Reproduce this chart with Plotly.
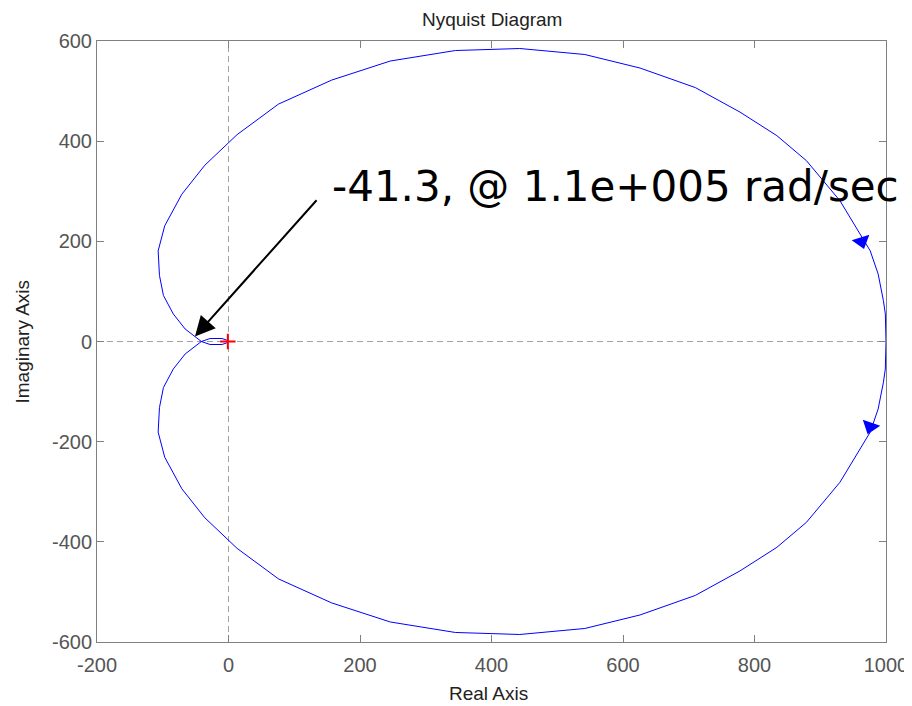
import plotly.graph_objects as go

# Nyquist curve, positive frequencies (w: 0 -> +inf)
re_pos = [1000, 999, 996, 988, 976, 930, 879, 834, 778, 710, 626, 542, 443, 345, 246, 157, 76, 13,
          -36, -71, -97, -107, -105, -99, -84, -66, -41.3, -28, -10, -3, 0]
im_pos = [0, -55, -82, -135, -181, -281, -361, -411, -458, -507, -546, -573, -585, -581, -560, -522,
          -474, -413, -352, -294, -231, -181, -132, -92, -55, -25, 0, 6, 6, 3, 0]

# Nyquist curve, negative frequencies (w: -inf -> 0)
re_neg = [0, -3, -10, -28, -41.3, -66, -84, -99, -105, -107, -97, -71, -36, 13, 76, 157, 246, 345,
          443, 542, 626, 710, 778, 834, 879, 930, 976, 988, 996, 999, 1000]
im_neg = [0, -3, -6, -6, 0, 25, 55, 92, 132, 181, 231, 294, 352, 413, 474, 522, 560, 581, 585, 573,
          546, 507, 458, 411, 361, 281, 181, 135, 82, 55, 0]

# direction arrows on the curve
arrow_re = [963, 976]
arrow_im = [200, -170]
arrow_angle = [-17, 19]

# critical point
crit_re = [-1]
crit_im = [0]

# annotation
ann_text = "-41.3, @ 1.1e+005 rad/sec"
ann_tip = (-51, 10)
ann_tail = (136, 285)
ann_text_pos = (155, 310)

x_ticks = [-200, 0, 200, 400, 600, 800, 1000]
y_ticks = [-600, -400, -200, 0, 200, 400, 600]
x_tick_text = ["-200", "0", "200", "400", "600", "800", "1000"]
y_tick_text = ["-600", "-400", "-200", "0", "200", "400", "600"]

title_text = "Nyquist Diagram"
x_title = "Real Axis"
y_title = "Imaginary Axis"

FONT = "Liberation Sans, Arial, sans-serif"
GRAY = "#808080"
TICKFONT = dict(family=FONT, size=20, color="#555555")
LABELFONT = dict(family=FONT, size=19, color="#222222")

fig = go.Figure()
fig.add_trace(go.Scatter(x=re_pos, y=im_pos, mode="lines",
                         line=dict(color="#0000ff", width=1), hoverinfo="skip", showlegend=False))
fig.add_trace(go.Scatter(x=re_neg, y=im_neg, mode="lines",
                         line=dict(color="#0000ff", width=1), hoverinfo="skip", showlegend=False))
fig.add_trace(go.Scatter(x=arrow_re, y=arrow_im, mode="markers",
                         marker=dict(symbol="triangle-down", size=16, color="#0000ff",
                                     angle=arrow_angle, line=dict(width=0)),
                         hoverinfo="skip", showlegend=False))
fig.add_trace(go.Scatter(x=crit_re, y=crit_im, mode="markers",
                         marker=dict(symbol="cross-thin", size=11, color="red",
                                     line=dict(color="red", width=2)),
                         hoverinfo="skip", showlegend=False))

fig.add_shape(type="line", xref="x", yref="y", x0=0, x1=0, y0=y_ticks[0], y1=y_ticks[-1],
              line=dict(color="#a0a0a0", width=1, dash="6px,4px"), layer="below")
fig.add_shape(type="line", xref="x", yref="y", x0=x_ticks[0], x1=x_ticks[-1], y0=0, y1=0,
              line=dict(color="#a0a0a0", width=1, dash="6px,4px"), layer="below")

fig.add_annotation(x=ann_tip[0], y=ann_tip[1], ax=ann_tail[0], ay=ann_tail[1],
                   xref="x", yref="y", axref="x", ayref="y", text="", showarrow=True,
                   arrowhead=2, arrowsize=2, arrowwidth=2, arrowcolor="black")
fig.add_annotation(x=ann_text_pos[0], y=ann_text_pos[1], xref="x", yref="y", text=ann_text,
                   showarrow=False, xanchor="left", yanchor="middle",
                   font=dict(family="DejaVu Sans", size=42, color="black"))

# title and axis labels
fig.add_annotation(x=0.5, y=1, xref="paper", yref="paper", text=title_text, showarrow=False,
                   xanchor="center", yanchor="middle", yshift=22, font=LABELFONT)
fig.add_annotation(x=0.5, y=0, xref="paper", yref="paper", text=x_title, showarrow=False,
                   xanchor="center", yanchor="middle", yshift=-51, xshift=-3, font=LABELFONT)
fig.add_annotation(x=0, y=0.5, xref="paper", yref="paper", text=y_title, showarrow=False,
                   xanchor="center", yanchor="middle", xshift=-75, textangle=-90, font=LABELFONT)

axis_common = dict(showline=True, mirror="ticks", ticks="inside", ticklen=7, tickwidth=1,
                   linecolor=GRAY, linewidth=1, tickcolor=GRAY, showgrid=False, zeroline=False,
                   tickfont=TICKFONT, automargin=False)

# the page body adds an 8px offset, so the figure is a little smaller than the window
fig.update_layout(
    width=904, height=698,
    margin=dict(l=89, r=26, t=33, b=64),
    paper_bgcolor="white", plot_bgcolor="white",
    xaxis=dict(range=[x_ticks[0], x_ticks[-1]], tickvals=x_ticks, ticktext=x_tick_text,
               ticklabelstandoff=5, **axis_common),
    yaxis=dict(range=[y_ticks[0], y_ticks[-1]], tickvals=y_ticks, ticktext=y_tick_text,
               **axis_common),
)

fig.write_html("out.html")
